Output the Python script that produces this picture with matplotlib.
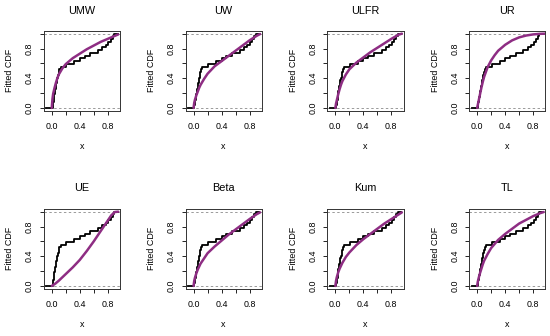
import numpy as np
import matplotlib
matplotlib.use('Agg')
import matplotlib.pyplot as plt

plt.rcParams['font.family'] = ['Liberation Sans', 'DejaVu Sans']

# observed sample (sorted) used for the empirical CDF
sample = [0.012, 0.019, 0.025, 0.031, 0.037, 0.043, 0.050, 0.057, 0.064,
          0.072, 0.080, 0.089, 0.098, 0.110, 0.125,
          0.21, 0.32, 0.40, 0.47, 0.55, 0.66, 0.72, 0.77, 0.81, 0.84,
          0.87, 0.89]

models = ['UMW', 'UW', 'ULFR', 'UR', 'UE', 'Beta', 'Kum', 'TL']

grid_a = [0, 0.01, 0.02, 0.04, 0.06, 0.08, 0.1, 0.15, 0.2, 0.3, 0.4, 0.5,
          0.6, 0.7, 0.8, 0.9, 0.95]
grid_r = [0, 0.02, 0.04, 0.06, 0.08, 0.1, 0.15, 0.2, 0.25, 0.3, 0.4, 0.5,
          0.6, 0.7, 0.8, 0.9, 0.97]
grid_e = [0, 0.05, 0.1, 0.2, 0.3, 0.4, 0.5, 0.6, 0.7, 0.8, 0.85, 0.9, 0.95]

umw_cdf = [0, 0.12, 0.19, 0.27, 0.34, 0.40, 0.45, 0.53, 0.59, 0.67, 0.73,
           0.79, 0.84, 0.89, 0.93, 0.97, 0.99]
uw_cdf = [0, 0.07, 0.11, 0.17, 0.22, 0.27, 0.31, 0.39, 0.46, 0.56, 0.63,
          0.70, 0.77, 0.84, 0.91, 0.97, 0.995]
ulfr_cdf = [0, 0.06, 0.10, 0.18, 0.25, 0.31, 0.36, 0.45, 0.52, 0.61, 0.68,
            0.75, 0.81, 0.87, 0.93, 0.985, 1.0]
ur_cdf = [0, 0.09, 0.18, 0.27, 0.35, 0.42, 0.55, 0.64, 0.71, 0.77, 0.85,
          0.91, 0.95, 0.975, 0.99, 0.998, 1.0]
ue_cdf = [0, 0.03, 0.07, 0.16, 0.25, 0.35, 0.47, 0.60, 0.74, 0.88, 0.95,
          0.995, 1.0]
beta_cdf = [0, 0.07, 0.11, 0.17, 0.22, 0.26, 0.30, 0.37, 0.44, 0.53, 0.61,
            0.69, 0.76, 0.83, 0.90, 0.965, 0.99]
kum_cdf = [0, 0.07, 0.115, 0.18, 0.23, 0.27, 0.31, 0.39, 0.45, 0.55, 0.63,
           0.70, 0.77, 0.84, 0.90, 0.96, 0.99]
tl_cdf = [0, 0.06, 0.10, 0.17, 0.23, 0.29, 0.34, 0.43, 0.51, 0.62, 0.70,
          0.77, 0.84, 0.89, 0.94, 0.98, 0.995]

curves = [(grid_a, umw_cdf), (grid_a, uw_cdf), (grid_a, ulfr_cdf),
          (grid_r, ur_cdf), (grid_e, ue_cdf), (grid_a, beta_cdf),
          (grid_a, kum_cdf), (grid_a, tl_cdf)]

x_ticks = [0.0, 0.2, 0.4, 0.6, 0.8]
x_ticklabels = ['0.0', '', '0.4', '', '0.8']
y_ticks = [0.0, 0.2, 0.4, 0.6, 0.8, 1.0]
y_ticklabels = ['0.0', '', '0.4', '', '0.8', '']

W, H = 550, 336
fig = plt.figure(figsize=(W / 100, H / 100), dpi=100)

box_w, box_h = 76.3, 80.2
lefts = [43.7, 185.5, 327.3, 469.1]
tops = [30.7, 208.7]
curve_color = '#8E2D83'
fs = 6.4

n = len(sample)
ecdf_x = [-0.078] + sample + [0.94]
ecdf_y = list(np.arange(n + 1) / n) + [1.0]

for i, name in enumerate(models):
    r, c = divmod(i, 4)
    left = lefts[c] / W
    bottom = 1 - (tops[r] + box_h) / H
    ax = fig.add_axes([left, bottom, box_w / W, box_h / H])
    ax.set_xlim(-0.115, 0.975)
    ax.set_ylim(-0.04, 1.04)
    ax.axhline(0, color='#9a9a9a', ls=(0, (2.5, 2.5)), lw=0.7, zorder=1)
    ax.axhline(1, color='#9a9a9a', ls=(0, (2.5, 2.5)), lw=0.7, zorder=1)
    ax.step(ecdf_x, ecdf_y, where='post', color='black', lw=1.3, zorder=2)
    cx, cy = curves[i]
    ax.plot(cx, cy, color=curve_color, lw=1.8, zorder=3,
            solid_capstyle='round', solid_joinstyle='round')
    ax.set_xticks(x_ticks)
    ax.set_xticklabels(x_ticklabels)
    ax.set_yticks(y_ticks)
    ax.set_yticklabels(y_ticklabels)
    ax.tick_params(direction='out', length=2.6, width=0.6, labelsize=fs,
                   colors='black')
    ax.tick_params(axis='x', pad=5.5)
    ax.tick_params(axis='y', pad=4.5)
    for lab in ax.get_yticklabels():
        lab.set_rotation(90)
        lab.set_va('center')
    for sp in ax.spines.values():
        sp.set_linewidth(0.7)
        sp.set_color('#333333')
    ax.text(0.5, 1 + 20.2 / box_h, name, transform=ax.transAxes,
            ha='center', va='center', fontsize=7.8)
    ax.text(-34 / box_w, 0.5, 'Fitted CDF', transform=ax.transAxes,
            ha='center', va='center', rotation=90, fontsize=fs)
    ax.text(0.5, -36 / box_h, 'x', transform=ax.transAxes,
            ha='center', va='center', fontsize=fs)

fig.savefig('out.png', dpi=100, facecolor='white')
